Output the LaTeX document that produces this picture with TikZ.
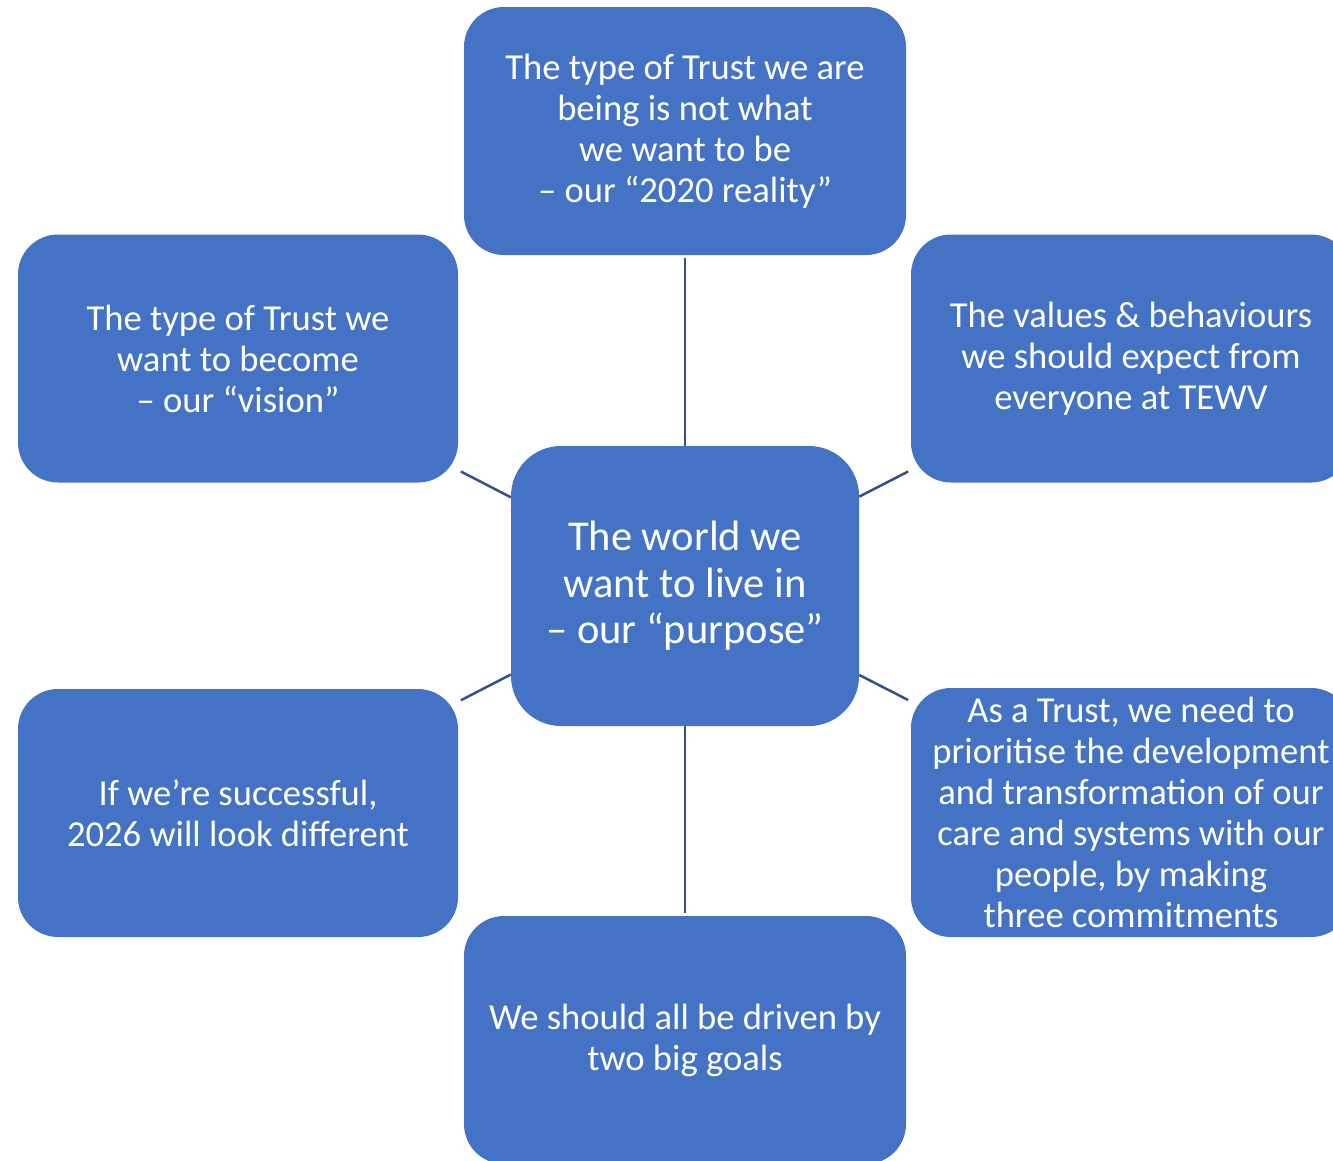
\documentclass[tikz,border=0pt]{standalone}
\usepackage{fontspec}
\setmainfont{Carlito}
\definecolor{boxblue}{HTML}{4472C4}
\definecolor{lineblue}{HTML}{2F528F}
\begin{document}
\begin{tikzpicture}[x=1pt,y=-1pt,
  box/.style={fill=boxblue, draw=none, rounded corners=40pt, inner sep=0pt,
    minimum width=440pt, minimum height=248pt, align=center, text=white,
    font=\fontsize{36.6}{41}\selectfont},
  centerbox/.style={box, minimum width=348pt, minimum height=280pt, rounded corners=50pt,
    font=\fontsize{42.5}{46.5}\selectfont},
  conn/.style={draw=lineblue, line width=2.5pt, shorten >=3pt}]
\useasboundingbox (0,0) rectangle (1333,1160);
\clip (0,0) rectangle (1333,1160);
\node[box, minimum width=442pt] (top) at (685,131) {The type of Trust we are\\being is not what\\we want to be\\– our “2020 reality”};
\node[box] (tl) at (238,358.5) {The type of Trust we\\want to become\\– our “vision”};
\node[box] (tr) at (1131,358.5) {The values \& behaviours\\we should expect from\\everyone at TEWV};
\node[box] (bl) at (238,813) {If we’re successful,\\2026 will look different};
\node[box, minimum height=249pt] (br) at (1131,812.5) {As a Trust, we need to\\prioritise the development\\and transformation of our\\care and systems with our\\people, by making\\three commitments};
\node[box, minimum width=442pt] (bot) at (685,1040) {We should all be driven by\\two big goals};
\node[centerbox] (c) at (685,586) {The world we\\want to live in\\– our “purpose”};
\draw[conn] (c) -- (top);
\draw[conn] (c) -- (bot);
\draw[conn] (c) -- (tl);
\draw[conn] (c) -- (tr);
\draw[conn] (c) -- (bl);
\draw[conn] (c) -- (br);
\end{tikzpicture}
\end{document}
